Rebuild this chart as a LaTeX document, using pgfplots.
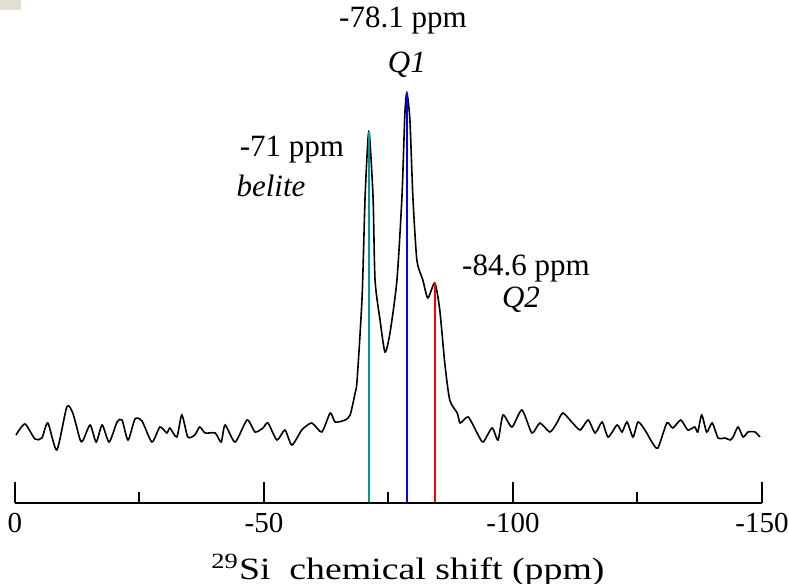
\documentclass[border=0pt]{standalone}
\usepackage{pgfplots}
\pgfplotsset{compat=1.18}
\usepackage{fontspec}
\setmainfont{Liberation Serif}
\definecolor{tealline}{RGB}{0,153,153}
\definecolor{beige}{RGB}{226,223,208}
\begin{document}
\begin{tikzpicture}
\useasboundingbox (-7.5pt,-40.5pt) rectangle (387pt,251.5pt);
\fill[beige] (-7.5pt,246.5pt) rectangle (3pt,251.5pt);
\begin{axis}[
  scale only axis,
  width=373.5pt, height=251.5pt,
  x dir=reverse,
  xmin=-150, xmax=0, ymin=0, ymax=503,
  axis x line=bottom, axis y line=none,
  x axis line style={-, line width=1pt, black},
  xtick={0,-50,-100,-150},
  xticklabels={0,{-50},{-100},{-150}},
  minor xtick={-25,-75,-125},
  tick align=inside,
  major tick length=10.5pt,
  minor tick length=5.5pt,
  every tick/.style={black, line width=1pt},
  tick label style={font=\fontsize{14.5}{16}\selectfont},
  xticklabel style={yshift=-1.5pt},
  xlabel={\scalebox{1.22}[1]{\textsuperscript{29}Si\ \ chemical shift (ppm)}},
  xlabel style={at={(axis description cs:0.526,-0.133)}, anchor=center, font=\fontsize{15.5}{17}\selectfont},
  clip=false,
]
\addplot[black, line width=0.8pt, smooth, tension=0.4] coordinates {
(-0.2,68) (-2.0,79) (-4.0,64) (-5.4,65) (-6.6,80) (-8.4,53) (-10.4,96) (-11.6,90)
(-13.1,63) (-13.7,63) (-15.1,78) (-16.3,61) (-17.5,78) (-18.9,61) (-20.5,81) (-21.5,83)
(-22.7,63) (-24.1,84) (-25.5,82) (-27.5,61) (-29.1,76) (-30.5,70) (-31.1,75) (-32.5,66)
(-33.5,88) (-34.7,66) (-36.1,68) (-37.1,76) (-38.2,70) (-40.2,70) (-41.4,61) (-42.2,78)
(-44.2,61) (-46.6,83) (-48.2,71) (-49.8,75) (-50.8,80) (-52.6,63) (-54.2,73) (-55.6,58)
(-57.6,73) (-59.6,80) (-61.6,71) (-63.3,90) (-64.3,81) (-66.3,83) (-67.3,88) (-68.3,110)
(-68.7,123) (-69.7,206) (-70.3,306) (-70.9,365) (-71.2,367) (-71.9,306) (-72.3,223)
(-73.3,183) (-74.3,151) (-75.3,170) (-76.7,223) (-77.7,306) (-78.3,390) (-78.7,410)
(-79.3,383) (-79.9,306) (-80.7,243) (-81.9,223) (-82.9,205) (-84.3,220) (-85.3,193)
(-86.3,140) (-87.3,103) (-88.8,90) (-89.4,80) (-91.0,86) (-92.8,70) (-94.0,61)
(-95.8,75) (-97.0,63) (-98.0,88) (-99.8,76) (-101.8,93) (-103.8,70) (-105.4,80)
(-107.4,71) (-108.8,80) (-110.0,90) (-111.8,81) (-113.5,73) (-115.1,83) (-116.5,70)
(-117.9,81) (-119.1,66) (-120.9,78) (-121.9,71) (-122.9,81) (-124.1,66) (-125.1,81)
(-126.5,73) (-127.9,61) (-129.1,55) (-130.9,80) (-132.1,75) (-133.7,83) (-135.1,73)
(-136.5,76) (-137.1,71) (-137.9,88) (-138.9,71) (-140.0,80) (-141.2,65) (-142.6,65)
(-143.6,63) (-144.2,66) (-145.2,76) (-146.2,66) (-147.2,71) (-148.6,71) (-149.6,66)
};
\addplot[tealline, line width=1pt] coordinates {(-71.1,1) (-71.1,371)};
\addplot[blue, line width=1pt] coordinates {(-78.8,1) (-78.8,410)};
\addplot[red, line width=1pt] coordinates {(-84.4,1) (-84.4,220)};
\node[font=\fontsize{15.5}{17}\selectfont] at (axis cs:-77.9,483) {-78.1 ppm};
\node[font=\fontsize{15.5}{17}\selectfont\itshape] at (axis cs:-78.7,438) {Q1};
\node[font=\fontsize{15.5}{17}\selectfont] at (axis cs:-55.6,353) {-71 ppm};
\node[font=\fontsize{15.5}{17}\selectfont\itshape] at (axis cs:-51.4,317) {belite};
\node[font=\fontsize{15.5}{17}\selectfont] at (axis cs:-102.6,235) {-84.6 ppm};
\node[font=\fontsize{15.5}{17}\selectfont\itshape] at (axis cs:-101.6,203) {Q2};
\end{axis}
\end{tikzpicture}
\end{document}
